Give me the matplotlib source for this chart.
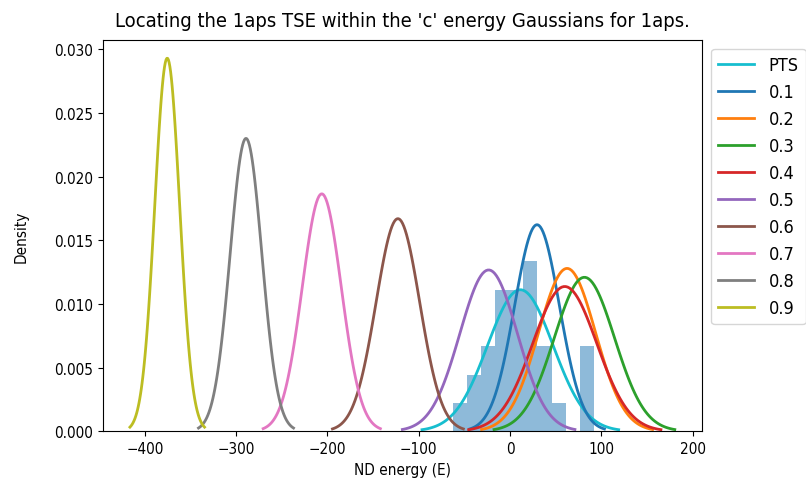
import numpy as np
import matplotlib
matplotlib.use("Agg")
import matplotlib.pyplot as plt

plt.rcParams['font.family'] = ['DejaVu Sans']
plt.rcParams['font.stretch'] = 'condensed'

# energies of the PTS structures (histogram sample)
pts_energy = [-62.9, -40, -35, -28, -22, -18, -14, -10, -6, -4, -2,
              2, 5, 8, 10, 12, 17, 20, 22, 24, 26, 28,
              33, 38, 42, 52, 80, 86, 92.1]

labels = ['PTS', '0.1', '0.2', '0.3', '0.4', '0.5', '0.6', '0.7', '0.8', '0.9']
means = [11.3, 29.6, 62.5, 81.5, 60.0, -23.4, -122.8, -206.2, -289.2, -375.5]
sigmas = [35.9, 24.6, 31.2, 33.0, 35.1, 31.5, 23.9, 21.4, 17.35, 13.62]
colors = ['#17becf', '#1f77b4', '#ff7f0e', '#2ca02c', '#d62728',
          '#9467bd', '#8c564b', '#e377c2', '#7f7f7f', '#bcbd22']


def gauss(x, mu, sd):
    return np.exp(-0.5 * ((x - mu) / sd) ** 2) / (sd * np.sqrt(2 * np.pi))


fig = plt.figure(figsize=(8.06, 4.89), dpi=100)
ax = fig.add_axes([0.1274, 0.116, 0.7436, 0.8008])

ax.hist(pts_energy, bins=10, density=True, alpha=0.5, color='#1f77b4')

for lab, mu, sd, c in zip(labels, means, sigmas, colors):
    x = np.linspace(mu - 3 * sd, mu + 3 * sd, 100)
    ax.plot(x, gauss(x, mu, sd), color=c, lw=2, label=lab)

ax.set_title("Locating the 1aps TSE within the 'c' energy Gaussians for 1aps.",
             fontsize=14.5, pad=10)
ax.set_xlabel("ND energy (E)", fontsize=11)
ax.set_ylabel("Density", fontsize=11, labelpad=18)
ax.tick_params(labelsize=11)
ax.legend(loc='upper left', bbox_to_anchor=(1, 1), fontsize=13)

fig.savefig("out.png", dpi=100)
